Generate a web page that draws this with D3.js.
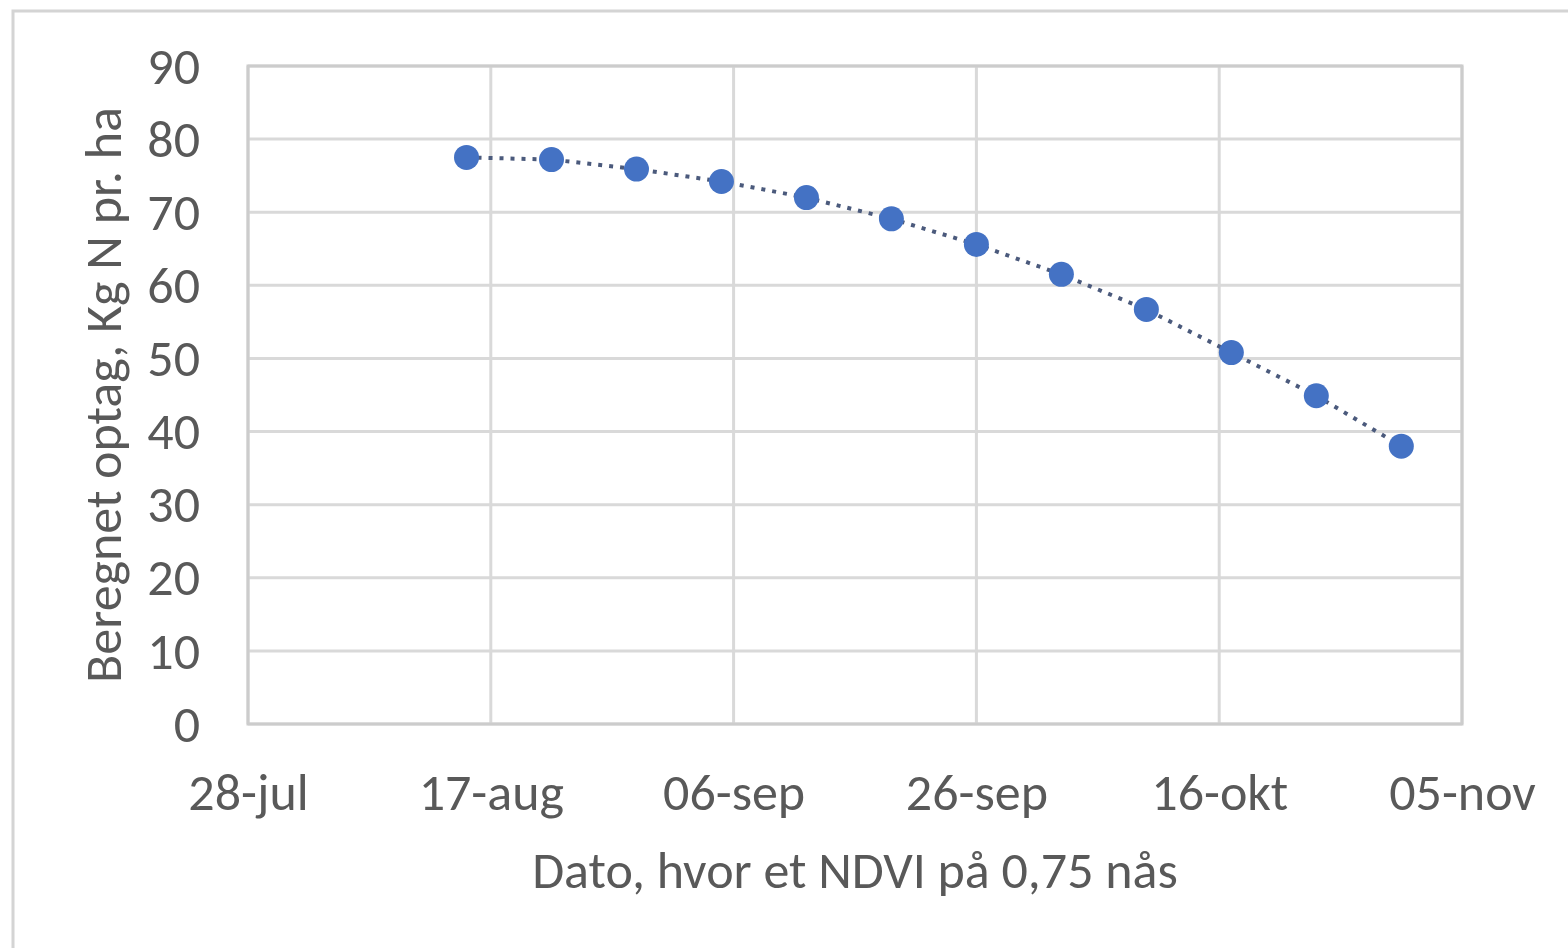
<!DOCTYPE html>
<html>
<head>
<meta charset="utf-8">
<script src="https://cdn.jsdelivr.net/npm/d3@7"></script>
<style>
  html, body { margin: 0; padding: 0; background: #fff; }
  svg { display: block; }
  text { font-family: "Carlito", "Liberation Sans Narrow", "Liberation Sans", sans-serif; fill: #595959; }
</style>
</head>
<body>
<svg id="chart" width="1568" height="948"></svg>
<script>
// Data
const dates = ["2021-08-15","2021-08-22","2021-08-29","2021-09-05","2021-09-12","2021-09-19",
               "2021-09-26","2021-10-03","2021-10-10","2021-10-17","2021-10-24","2021-10-31"];
const values = [77.5, 77.2, 75.9, 74.2, 72.0, 69.1, 65.6, 61.5, 56.7, 50.8, 44.9, 38.0];
const xTickDates = ["2021-07-28","2021-08-17","2021-09-06","2021-09-26","2021-10-16","2021-11-05"];
const xTickLabels = ["28-jul","17-aug","06-sep","26-sep","16-okt","05-nov"];
const yTicks = [0,10,20,30,40,50,60,70,80,90];
const yTitle = "Beregnet optag, Kg N pr. ha";
const xTitle = "Dato, hvor et NDVI på 0,75 nås";

(function () {
const parse = d3.utcParse("%Y-%m-%d");
const svg = d3.select("#chart");
const fs = 52;

const pLeft = 248, pRight = 1462, pTop = 66, pBottom = 724;

const x = d3.scaleUtc()
  .domain([parse(xTickDates[0]), parse(xTickDates[xTickDates.length-1])])
  .range([pLeft, pRight]);
const y = d3.scaleLinear().domain([0, 90]).range([pBottom, pTop]);

// outer frame
svg.append("path")
  .attr("d", "M13,948 L13,11 L1568,11")
  .attr("fill", "none").attr("stroke", "#d4d4d4").attr("stroke-width", 3);

const gridColor = "#d9d9d9";
svg.append("g").selectAll("line").data(yTicks).join("line")
  .attr("x1", pLeft).attr("x2", pRight)
  .attr("y1", d => y(d)).attr("y2", d => y(d))
  .attr("stroke", gridColor).attr("stroke-width", 3);

svg.append("g").selectAll("line").data(xTickDates).join("line")
  .attr("x1", d => x(parse(d))).attr("x2", d => x(parse(d)))
  .attr("y1", pTop).attr("y2", pBottom)
  .attr("stroke", gridColor).attr("stroke-width", 3);

svg.append("rect")
  .attr("x", pLeft).attr("y", pTop).attr("width", pRight-pLeft).attr("height", pBottom-pTop)
  .attr("fill", "none").attr("stroke", "#cccccc").attr("stroke-width", 3);

const yAxis = d3.axisLeft(y).tickValues(yTicks).tickSize(0).tickPadding(0);
const gy = svg.append("g").attr("transform", `translate(200,0)`).call(yAxis);
gy.select(".domain").remove();
gy.attr("font-family", null).attr("font-size", null);
gy.selectAll("text").attr("font-size", fs).attr("fill", "#595959").attr("dy", "0.33em");

const xAxis = d3.axisBottom(x).tickValues(xTickDates.map(parse))
  .tickFormat((d,i) => xTickLabels[i]).tickSize(0).tickPadding(0);
const gx = svg.append("g").attr("transform", `translate(0,${pBottom})`).call(xAxis);
gx.select(".domain").remove();
gx.attr("font-family", null).attr("font-size", null);
gx.selectAll("text").attr("font-size", fs).attr("fill", "#595959").attr("y", 86).attr("dy", 0);

svg.append("text")
  .attr("transform", `translate(121,${(pTop+pBottom)/2}) rotate(-90)`)
  .attr("text-anchor", "middle").attr("font-size", fs).text(yTitle);
svg.append("text")
  .attr("x", (pLeft+pRight)/2).attr("y", 888)
  .attr("text-anchor", "middle").attr("font-size", fs).text(xTitle);

const line = d3.line().x((d,i) => x(parse(dates[i]))).y(d => y(d));
svg.append("path").datum(values)
  .attr("d", line).attr("fill", "none")
  .attr("stroke", "#4b5a7c").attr("stroke-width", 4)
  .attr("stroke-dasharray", "4,7");

svg.append("g").selectAll("circle").data(values).join("circle")
  .attr("cx", (d,i) => x(parse(dates[i]))).attr("cy", d => y(d))
  .attr("r", 12.5).attr("fill", "#4472c4");
})();
</script>
</body>
</html>
